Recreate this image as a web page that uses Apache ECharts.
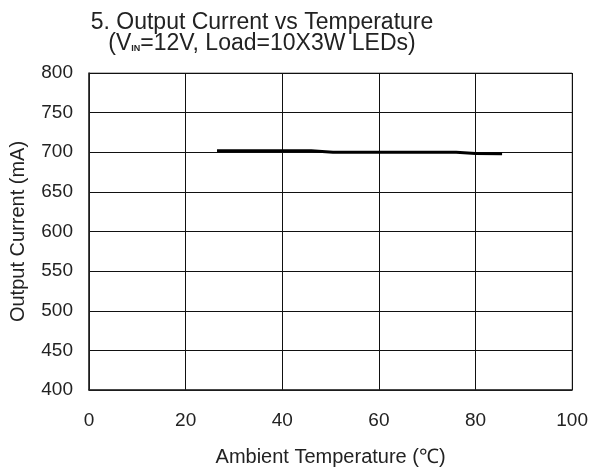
<!DOCTYPE html>
<html><head><meta charset="utf-8">
<script src="https://cdn.jsdelivr.net/npm/echarts@6/dist/echarts.min.js"></script>
<style>html,body{margin:0;padding:0;background:#fff}#c{width:591px;height:472px}</style>
</head><body><div id="c"></div>
<script>
const temperatures = [26.5, 46, 50.5, 76, 80, 85.5];
const currents = [702, 702, 700, 700, 698.5, 698];
const xTicks = [0, 20, 40, 60, 80, 100];
const yTicks = [400, 450, 500, 550, 600, 650, 700, 750, 800];

const chart = echarts.init(document.getElementById('c'));
const font = 'Liberation Sans, Arial, sans-serif';
chart.setOption({
  animation: false,
  backgroundColor: '#fff',
  title: {
    text: '{t|5. Output Current vs Temperature}\n{t|(V}{s|IN}{t|=12V, Load=10X3W LEDs)}',
    left: 257, top: 7, textAlign: 'center',
    textStyle: {
      rich: {
        t: {fontFamily: font, fontSize: 23, color: '#222', lineHeight: 21, fontWeight: 'normal'},
        s: {fontFamily: font, fontSize: 9, color: '#222', lineHeight: 21, padding: [10,0,0,0]}
      }
    }
  },
  grid: {left: 89, right: 18, top: 73, bottom: 81, show: true, borderColor: '#777', borderWidth: 1},
  xAxis: {
    type: 'value', min: 0, max: 100, interval: 20,
    name: 'Ambient Temperature (℃)', nameLocation: 'middle', nameGap: 57,
    nameTextStyle: {fontFamily: font, fontSize: 20, color: '#222'},
    axisLine: {show: true, lineStyle: {color: '#222', width: 1.5}},
    axisTick: {show: false},
    axisLabel: {fontFamily: font, fontSize: 19, color: '#222', margin: 21,
      formatter: v => xTicks.includes(v) ? String(v) : ''},
    splitLine: {show: true, lineStyle: {color: '#111', width: 1}}
  },
  yAxis: {
    type: 'value', min: 400, max: 800, interval: 50,
    name: 'Output Current (mA)', nameLocation: 'middle', nameGap: 61,
    nameTextStyle: {fontFamily: font, fontSize: 20, color: '#222'},
    axisLine: {show: true, lineStyle: {color: '#222', width: 1.5}},
    axisTick: {show: false},
    axisLabel: {fontFamily: font, fontSize: 19, color: '#222', margin: 16,
      formatter: v => yTicks.includes(v) ? String(v) : ''},
    splitLine: {show: true, lineStyle: {color: '#111', width: 1}}
  },
  series: [{
    type: 'line',
    data: temperatures.map((t, i) => [t, currents[i]]),
    showSymbol: false,
    lineStyle: {color: '#000', width: 3}
  }]
});
</script></body></html>
